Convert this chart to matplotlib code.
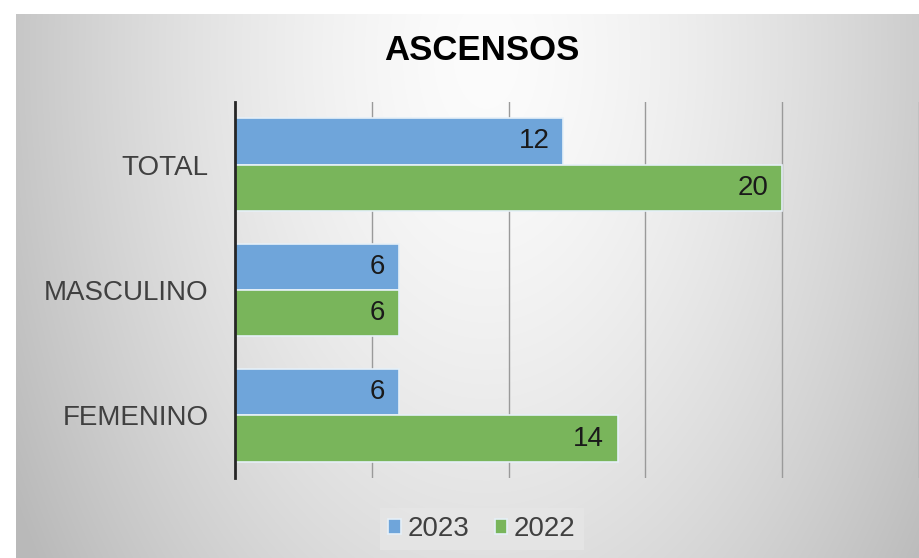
import numpy as np
import matplotlib.pyplot as plt
from matplotlib.transforms import offset_copy

# datos del grafico
categorias = ['TOTAL', 'MASCULINO', 'FEMENINO']
valores_2023 = [12, 6, 6]
valores_2022 = [20, 6, 14]
series = ['2023', '2022']

azul = '#6fa5da'
verde = '#79b55b'

fig = plt.figure(figsize=(9.19, 5.58), dpi=100)
fig.patch.set_facecolor('white')

# fondo degradado (blanco al centro, gris en los bordes)
bg = fig.add_axes([16 / 919, 0, 1 - 16 / 919, 1 - 14 / 558], zorder=-5)
w, h = 903, 544
xx, yy = np.meshgrid(np.arange(w), np.arange(h))
r = np.sqrt(((xx - 470) / 520.0) ** 2 + ((yy - 40) / 850.0) ** 2)
gris = np.clip(252 - 62 * r ** 1.5, 185, 255) / 255.0
bg.imshow(np.dstack([gris, gris, gris]), aspect='auto', extent=[0, 1, 0, 1])
bg.axis('off')

ax = fig.add_axes([235 / 919, 80 / 558, 684 / 919, 376 / 558])
ax.patch.set_alpha(0)

y = np.arange(len(categorias))
alto = 0.37
b1 = ax.barh(y - alto / 2, valores_2023, height=alto, color=azul,
             edgecolor='#e6f0f8', linewidth=1.2, label=series[0], zorder=3)
b2 = ax.barh(y + alto / 2, valores_2022, height=alto, color=verde,
             edgecolor='#e6f0f8', linewidth=1.2, label=series[1], zorder=3)

# etiquetas de valor dentro del extremo de la barra
trans = offset_copy(ax.transData, fig=fig, x=-14, y=0, units='dots')
for desp, vals in ((-alto / 2, valores_2023), (alto / 2, valores_2022)):
    for i, v in enumerate(vals):
        ax.text(v, i + desp, str(v), transform=trans, ha='right', va='center',
                fontsize=20, color='#1a1a1a', family='Liberation Sans', zorder=4)

ax.set_xlim(0, 25)
ax.set_ylim(2.5, -0.5)
ax.set_xticks([5, 10, 15, 20, 25])
ax.set_xticklabels([])
ax.tick_params(axis='x', length=0)
ax.grid(axis='x', color='#9a9a9a', linewidth=1.0, zorder=0)
ax.set_yticks(y)
ax.set_yticklabels(categorias, fontsize=20, color='#404040', family='Liberation Sans')
ax.tick_params(axis='y', length=0, pad=19)
for s in ['top', 'right', 'bottom']:
    ax.spines[s].set_visible(False)
ax.spines['left'].set_color('#262626')
ax.spines['left'].set_linewidth(2)
ax.spines['left'].set_zorder(5)

fig.text(482 / 919, 1 - 50 / 558, 'ASCENSOS', ha='center', va='center',
         fontsize=25, fontweight='bold', family='Liberation Sans', color='black')

leg = fig.legend(handles=[b1, b2], labels=series, loc='center',
                 bbox_to_anchor=(482 / 919, 1 - 529 / 558), ncol=2,
                 frameon=True, fancybox=False, handlelength=0.45, handleheight=0.45,
                 handletextpad=0.25, columnspacing=0.9, borderpad=0.3,
                 prop={'family': 'Liberation Sans', 'size': 20})
leg.get_frame().set_facecolor('#e6e6e6')
leg.get_frame().set_edgecolor('none')
for t in leg.get_texts():
    t.set_color('#404040')

fig.savefig('out.png', dpi=100)
